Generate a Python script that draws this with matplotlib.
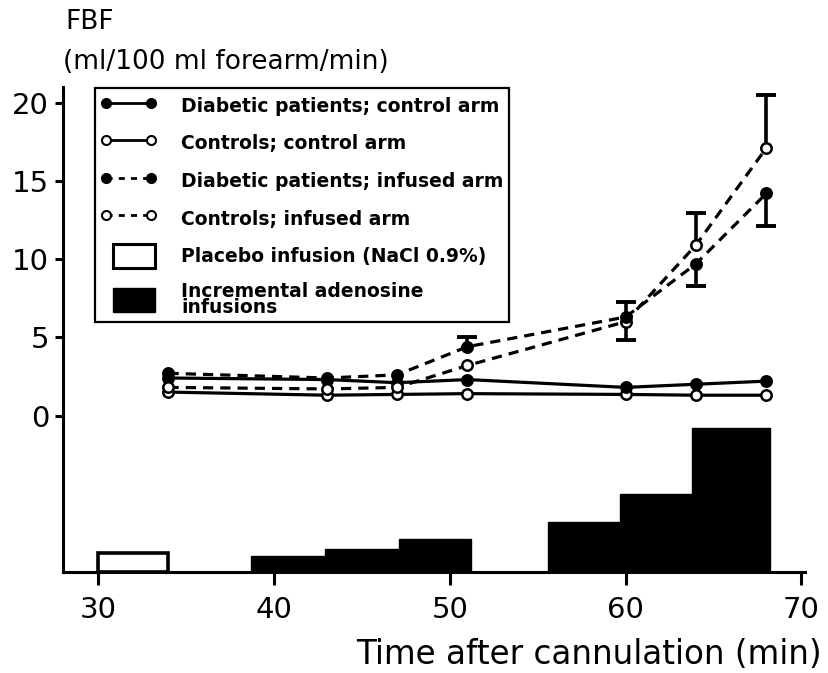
import numpy as np
import matplotlib.pyplot as plt
import matplotlib.patches as mpatches
from matplotlib.lines import Line2D
from matplotlib.legend_handler import HandlerPatch

nan = np.nan

# time after cannulation (min)
t = [34, 43, 47, 51, 60, 64, 68]

# forearm blood flow (ml/100 ml forearm/min)
diab_ctrl = [2.4, 2.3, 2.1, 2.3, 1.8, 2.0, 2.2]
ctrl_ctrl = [1.5, 1.3, 1.35, 1.4, 1.35, 1.3, 1.3]
diab_inf = [2.7, 2.4, 2.6, 4.4, 6.3, 9.7, 14.2]
ctrl_inf = [1.8, 1.7, 1.8, 3.2, 6.0, 10.9, 17.1]

# one-sided error bars (nan = none drawn)
diab_inf_err_up = [nan, nan, nan, 0.6, nan, nan, nan]
diab_inf_err_lo = [nan, nan, nan, nan, 1.5, 1.4, 2.1]
ctrl_inf_err_up = [nan, nan, nan, nan, 1.25, 2.05, 3.4]

# infusion blocks (drawn below the 0 line)
placebo_start = [30]
placebo_end = [34]
placebo_height = [1.2]
ado_start = [38.7, 42.9, 47.1, 55.6, 59.7, 63.8]
ado_end = [42.9, 47.1, 51.2, 59.7, 63.8, 68.2]
ado_height = [1.0, 1.5, 2.1, 3.2, 5.0, 9.2]

BASE = -10
LW = 2.3

fig = plt.figure(figsize=(8.29, 6.73), dpi=100)
ax = fig.add_axes([63 / 829, 101 / 673, 742 / 829, 485 / 673])

# infusion bars
ax.bar(placebo_start, placebo_height, width=np.subtract(placebo_end, placebo_start),
       bottom=BASE, align="edge", facecolor="white", edgecolor="black", linewidth=2.6, zorder=2)
ax.bar(ado_start, ado_height, width=np.subtract(ado_end, ado_start),
       bottom=BASE, align="edge", facecolor="black", edgecolor="black", linewidth=1, zorder=2)

# error bars (one-sided)
def one_sided(x, y, err, sign):
    x = np.asarray(x, float)
    y = np.asarray(y, float)
    err = np.asarray(err, float)
    ok = ~np.isnan(err)
    end = y[ok] + sign * err[ok]
    ax.vlines(x[ok], y[ok], end, color="black", linewidth=2.6, zorder=3)
    ax.plot(x[ok], end, linestyle="none", marker="_", markersize=15,
            markeredgewidth=2.8, color="black", zorder=3)

one_sided(t, diab_inf, diab_inf_err_up, 1)
one_sided(t, diab_inf, diab_inf_err_lo, -1)
one_sided(t, ctrl_inf, ctrl_inf_err_up, 1)

dash = (0, (3.2, 2.2))
mk = dict(marker="o", markersize=7.5, markeredgewidth=1.8, markeredgecolor="black")

ax.plot(t, ctrl_ctrl, color="black", linewidth=LW, linestyle="-",
        markerfacecolor="white", zorder=4, **mk)
ax.plot(t, diab_ctrl, color="black", linewidth=LW, linestyle="-",
        markerfacecolor="black", zorder=4, **mk)
ax.plot(t, ctrl_inf, color="black", linewidth=LW, linestyle=dash,
        markerfacecolor="white", zorder=5, **mk)
ax.plot(t, diab_inf, color="black", linewidth=LW, linestyle=dash,
        markerfacecolor="black", zorder=5, **mk)

ax.set_xlim(28, 70.2)
ax.set_ylim(BASE, 21)
ax.set_xticks([30, 40, 50, 60, 70])
ax.set_yticks([0, 5, 10, 15, 20])
for s in ["top", "right"]:
    ax.spines[s].set_visible(False)
for s in ["left", "bottom"]:
    ax.spines[s].set_linewidth(2.2)
ax.tick_params(axis="both", direction="out", width=2.2, labelsize=21)
ax.tick_params(axis="y", length=6, pad=4)
ax.tick_params(axis="x", length=9, pad=8)

# legend
def narrow_rect(legend, orig_handle, xdescent, ydescent, width, height, fontsize):
    return mpatches.Rectangle((-xdescent + 0.22 * width, -ydescent), 0.74 * width, height)

handles = [
    Line2D([], [], color="black", linewidth=2, linestyle="-", markerfacecolor="black",
           marker="o", markersize=6.5, markeredgewidth=1.5, markeredgecolor="black"),
    Line2D([], [], color="black", linewidth=2, linestyle="-", markerfacecolor="white",
           marker="o", markersize=6.5, markeredgewidth=1.5, markeredgecolor="black"),
    Line2D([], [], color="black", linewidth=2, linestyle=(0, (2.2, 2.2)), markerfacecolor="black",
           marker="o", markersize=6.5, markeredgewidth=1.5, markeredgecolor="black"),
    Line2D([], [], color="black", linewidth=2, linestyle=(0, (2.2, 2.2)), markerfacecolor="white",
           marker="o", markersize=6.5, markeredgewidth=1.5, markeredgecolor="black"),
    mpatches.Patch(facecolor="white", edgecolor="black", linewidth=2.2),
    mpatches.Patch(facecolor="black", edgecolor="black", linewidth=1),
]
labels = [
    "Diabetic patients; control arm",
    "Controls; control arm",
    "Diabetic patients; infused arm",
    "Controls; infused arm",
    "Placebo infusion (NaCl 0.9%)",
    "Incremental adenosine\ninfusions",
]
leg = ax.legend(handles, labels, loc="upper left", bbox_to_anchor=(0.043, 0.998),
                borderaxespad=0, numpoints=2, fancybox=False, framealpha=1,
                edgecolor="black", prop=dict(size=13.5, weight="bold"),
                handlelength=3.0, handleheight=1.6, handletextpad=1.3,
                labelspacing=0.72, borderpad=0.3,
                handler_map={mpatches.Patch: HandlerPatch(patch_func=narrow_rect)})
leg.get_frame().set_linewidth(1.6)
leg.set_zorder(6)
leg.get_texts()[5].set_linespacing(0.8)

# axis titles
fig.text(65 / 829, 1 - 22 / 673, "FBF", fontsize=19, ha="left", va="center")
fig.text(63 / 829, 1 - 62 / 673, "(ml/100 ml forearm/min)", fontsize=19, ha="left", va="center")
fig.text(822 / 829, 1 - 655 / 673, "Time after cannulation (min)", fontsize=23.5,
         ha="right", va="center")

fig.savefig("out.png", dpi=100, facecolor="white")
